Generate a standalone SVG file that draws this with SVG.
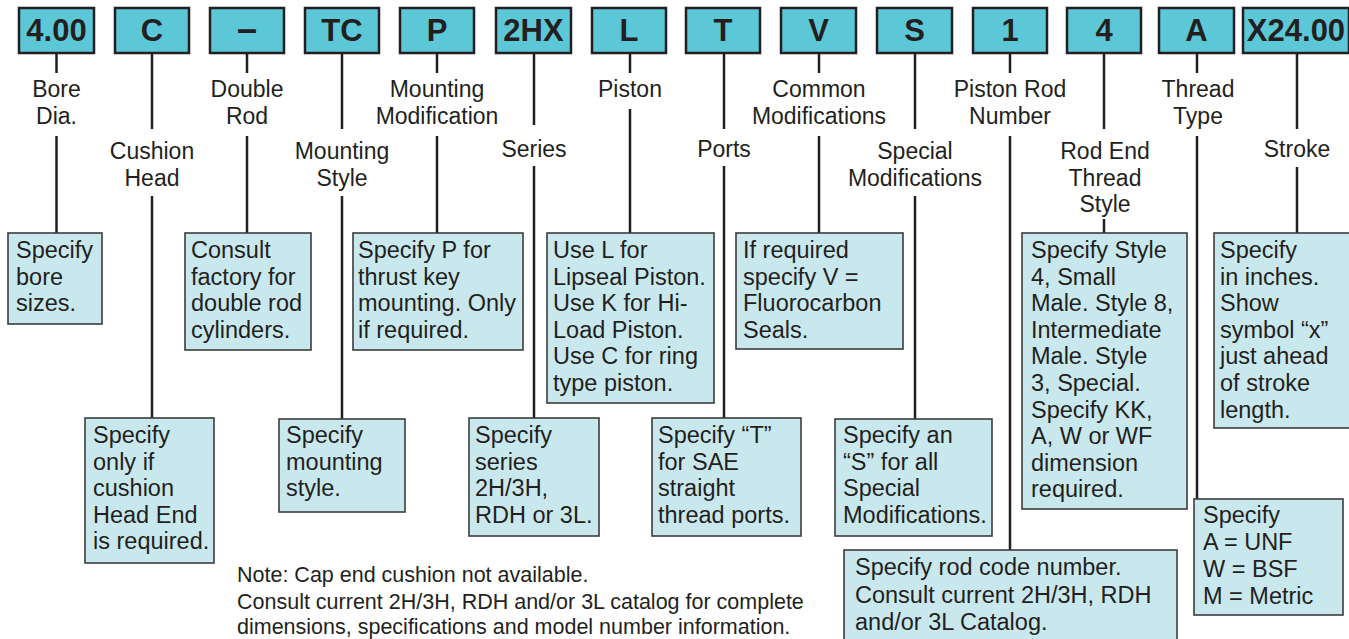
<svg xmlns="http://www.w3.org/2000/svg" width="1349" height="639" viewBox="0 0 1349 639">
<style>
.code rect{fill:#5cc8d7;stroke:#231f20;stroke-width:2.5}
.code text{font-family:"Liberation Sans",Arial,sans-serif;font-weight:bold;font-size:31px;fill:#231f20;text-anchor:middle}
.lbl text{font-family:"Liberation Sans",Arial,sans-serif;font-size:23px;fill:#231f20;text-anchor:middle}
.desc rect{fill:#c9e8ee;stroke:#3c3c3c;stroke-width:1.6}
.desc text{font-family:"Liberation Sans",Arial,sans-serif;font-size:23.5px;fill:#231f20}
.note{font-family:"Liberation Sans",Arial,sans-serif;font-size:21.5px;fill:#231f20}
#connectors line{stroke:#231f20;stroke-width:2.5}
</style>
<rect width="1349" height="639" fill="#ffffff"/>

<g id="connectors">
<line x1="56.5" y1="53" x2="56.5" y2="73"/><line x1="56.5" y1="136" x2="56.5" y2="233"/>
<line x1="152" y1="53" x2="152" y2="129"/><line x1="152" y1="196" x2="152" y2="418"/>
<line x1="247" y1="53" x2="247" y2="73"/><line x1="247" y1="136" x2="247" y2="233"/>
<line x1="342" y1="53" x2="342" y2="129"/><line x1="342" y1="196" x2="342" y2="419"/>
<line x1="437" y1="53" x2="437" y2="73"/><line x1="437" y1="136" x2="437" y2="233"/>
<line x1="534" y1="53" x2="534" y2="125"/><line x1="534" y1="166" x2="534" y2="418"/>
<line x1="630" y1="53" x2="630" y2="73"/><line x1="630" y1="109" x2="630" y2="233"/>
<line x1="724" y1="53" x2="724" y2="129"/><line x1="724" y1="166" x2="724" y2="418"/>
<line x1="819" y1="53" x2="819" y2="73"/><line x1="819" y1="136" x2="819" y2="233"/>
<line x1="915" y1="53" x2="915" y2="129"/><line x1="915" y1="196" x2="915" y2="419"/>
<line x1="1010" y1="53" x2="1010" y2="73"/><line x1="1010" y1="136" x2="1010" y2="550"/>
<line x1="1104" y1="53" x2="1104" y2="129"/><line x1="1104" y1="219" x2="1104" y2="233"/>
<line x1="1197" y1="53" x2="1197" y2="73"/><line x1="1197" y1="136" x2="1197" y2="499"/>
<line x1="1297" y1="53" x2="1297" y2="129"/><line x1="1297" y1="167" x2="1297" y2="233"/>
</g>

<g id="code-bore" class="code"><rect x="19" y="8" width="75" height="45"/><text x="56.5" y="41">4.00</text></g>
<g id="code-cushion" class="code"><rect x="115" y="8" width="74" height="45"/><text x="152" y="41">C</text></g>
<g id="code-double" class="code"><rect x="210" y="8" width="74" height="45"/><text x="247" y="41" style="font-size:36px">–</text></g>
<g id="code-mounting" class="code"><rect x="305" y="8" width="74" height="45"/><text x="342" y="41">TC</text></g>
<g id="code-mountmod" class="code"><rect x="400" y="8" width="74" height="45"/><text x="437" y="41">P</text></g>
<g id="code-series" class="code"><rect x="496" y="8" width="75" height="45"/><text x="533.5" y="41">2HX</text></g>
<g id="code-piston" class="code"><rect x="592" y="8" width="74" height="45"/><text x="629" y="41">L</text></g>
<g id="code-ports" class="code"><rect x="686" y="8" width="74" height="45"/><text x="723" y="41">T</text></g>
<g id="code-common" class="code"><rect x="781" y="8" width="75" height="45"/><text x="818.5" y="41">V</text></g>
<g id="code-special" class="code"><rect x="877" y="8" width="75" height="45"/><text x="914.5" y="41">S</text></g>
<g id="code-rod" class="code"><rect x="973" y="8" width="74" height="45"/><text x="1010" y="41">1</text></g>
<g id="code-rodend" class="code"><rect x="1067" y="8" width="74" height="45"/><text x="1104" y="41">4</text></g>
<g id="code-thread" class="code"><rect x="1159" y="8" width="75" height="45"/><text x="1196.5" y="41">A</text></g>
<g id="code-stroke" class="code"><rect x="1243" y="8" width="106" height="45"/><text x="1296" y="41">X24.00</text></g>

<g id="label-bore" class="lbl"><text x="56.5" y="97">Bore</text><text x="56.5" y="124">Dia.</text></g>
<g id="label-cushion" class="lbl"><text x="152" y="159">Cushion</text><text x="152" y="186">Head</text></g>
<g id="label-double" class="lbl"><text x="247" y="97">Double</text><text x="247" y="124">Rod</text></g>
<g id="label-mounting" class="lbl"><text x="342" y="159">Mounting</text><text x="342" y="186">Style</text></g>
<g id="label-mountmod" class="lbl"><text x="437" y="97">Mounting</text><text x="437" y="124">Modification</text></g>
<g id="label-series" class="lbl"><text x="534" y="157">Series</text></g>
<g id="label-piston" class="lbl"><text x="630" y="97">Piston</text></g>
<g id="label-ports" class="lbl"><text x="724" y="157">Ports</text></g>
<g id="label-common" class="lbl"><text x="819" y="97">Common</text><text x="819" y="124">Modifications</text></g>
<g id="label-special" class="lbl"><text x="915" y="159">Special</text><text x="915" y="186">Modifications</text></g>
<g id="label-rod" class="lbl"><text x="1010" y="97">Piston Rod</text><text x="1010" y="124">Number</text></g>
<g id="label-rodend" class="lbl"><text x="1105" y="159">Rod End</text><text x="1105" y="186">Thread</text><text x="1105" y="212">Style</text></g>
<g id="label-thread" class="lbl"><text x="1198" y="97">Thread</text><text x="1198" y="124">Type</text></g>
<g id="label-stroke" class="lbl"><text x="1297" y="157">Stroke</text></g>

<g id="desc-bore" class="desc"><rect x="8" y="233" width="94" height="91"/>
<text x="16" y="258"><tspan x="16">Specify</tspan><tspan x="16" dy="26.6">bore</tspan><tspan x="16" dy="26.6">sizes.</tspan></text></g>
<g id="desc-cushion" class="desc"><rect x="85" y="418" width="129" height="145"/>
<text x="93" y="443"><tspan x="93">Specify</tspan><tspan x="93" dy="26.6">only if</tspan><tspan x="93" dy="26.6">cushion</tspan><tspan x="93" dy="26.6">Head End</tspan><tspan x="93" dy="26.6">is required.</tspan></text></g>
<g id="desc-double" class="desc"><rect x="185" y="233" width="126" height="117"/>
<text x="191" y="258"><tspan x="191">Consult</tspan><tspan x="191" dy="26.6">factory for</tspan><tspan x="191" dy="26.6">double rod</tspan><tspan x="191" dy="26.6">cylinders.</tspan></text></g>
<g id="desc-mounting" class="desc"><rect x="279" y="419" width="126" height="93"/>
<text x="286" y="443"><tspan x="286">Specify</tspan><tspan x="286" dy="26.6">mounting</tspan><tspan x="286" dy="26.6">style.</tspan></text></g>
<g id="desc-mountmod" class="desc"><rect x="353" y="233" width="170" height="117"/>
<text x="358" y="258"><tspan x="358">Specify P for</tspan><tspan x="358" dy="26.6">thrust key</tspan><tspan x="358" dy="26.6">mounting. Only</tspan><tspan x="358" dy="26.6">if required.</tspan></text></g>
<g id="desc-series" class="desc"><rect x="469" y="418" width="130" height="118"/>
<text x="475" y="443"><tspan x="475">Specify</tspan><tspan x="475" dy="26.6">series</tspan><tspan x="475" dy="26.6">2H/3H,</tspan><tspan x="475" dy="26.6">RDH or 3L.</tspan></text></g>
<g id="desc-piston" class="desc"><rect x="547" y="233" width="167" height="170"/>
<text x="553" y="258"><tspan x="553">Use L for</tspan><tspan x="553" dy="26.6">Lipseal Piston.</tspan><tspan x="553" dy="26.6">Use K for Hi-</tspan><tspan x="553" dy="26.6">Load Piston.</tspan><tspan x="553" dy="26.6">Use C for ring</tspan><tspan x="553" dy="26.6">type piston.</tspan></text></g>
<g id="desc-ports" class="desc"><rect x="652" y="418" width="149" height="118"/>
<text x="658" y="443"><tspan x="658">Specify “T”</tspan><tspan x="658" dy="26.6">for SAE</tspan><tspan x="658" dy="26.6">straight</tspan><tspan x="658" dy="26.6">thread ports.</tspan></text></g>
<g id="desc-common" class="desc"><rect x="736" y="233" width="167" height="116"/>
<text x="743" y="258"><tspan x="743">If required</tspan><tspan x="743" dy="26.6">specify V =</tspan><tspan x="743" dy="26.6">Fluorocarbon</tspan><tspan x="743" dy="26.6">Seals.</tspan></text></g>
<g id="desc-special" class="desc"><rect x="835" y="419" width="157" height="117"/>
<text x="843" y="443"><tspan x="843">Specify an</tspan><tspan x="843" dy="26.6">“S” for all</tspan><tspan x="843" dy="26.6">Special</tspan><tspan x="843" dy="26.6">Modifications.</tspan></text></g>
<g id="desc-rod" class="desc"><rect x="844" y="550" width="333" height="95"/>
<text x="855" y="575"><tspan x="855">Specify rod code number.</tspan><tspan x="855" dy="27.5">Consult current 2H/3H, RDH</tspan><tspan x="855" dy="27.5">and/or 3L Catalog.</tspan></text></g>
<g id="desc-rodend" class="desc"><rect x="1022" y="233" width="165" height="276"/>
<text x="1031" y="258"><tspan x="1031">Specify Style</tspan><tspan x="1031" dy="26.6">4, Small</tspan><tspan x="1031" dy="26.6">Male. Style 8,</tspan><tspan x="1031" dy="26.6">Intermediate</tspan><tspan x="1031" dy="26.6">Male. Style</tspan><tspan x="1031" dy="26.6">3, Special.</tspan><tspan x="1031" dy="26.6">Specify KK,</tspan><tspan x="1031" dy="26.6">A, W or WF</tspan><tspan x="1031" dy="26.6">dimension</tspan><tspan x="1031" dy="26.6">required.</tspan></text></g>
<g id="desc-thread" class="desc"><rect x="1194" y="499" width="149" height="116"/>
<text x="1203" y="523"><tspan x="1203">Specify</tspan><tspan x="1203" dy="27">A = UNF</tspan><tspan x="1203" dy="27">W = BSF</tspan><tspan x="1203" dy="27">M = Metric</tspan></text></g>
<g id="desc-stroke" class="desc"><rect x="1214" y="233" width="145" height="195"/>
<text x="1220" y="258"><tspan x="1220">Specify</tspan><tspan x="1220" dy="26.6">in inches.</tspan><tspan x="1220" dy="26.6">Show</tspan><tspan x="1220" dy="26.6">symbol “x”</tspan><tspan x="1220" dy="26.6">just ahead</tspan><tspan x="1220" dy="26.6">of stroke</tspan><tspan x="1220" dy="26.6">length.</tspan></text></g>

<g id="notes">
<text class="note" x="237" y="582">Note: Cap end cushion not available.</text>
<text class="note" x="237" y="609">Consult current 2H/3H, RDH and/or 3L catalog for complete</text>
<text class="note" x="237" y="634">dimensions, specifications and model number information.</text>
</g>
</svg>
